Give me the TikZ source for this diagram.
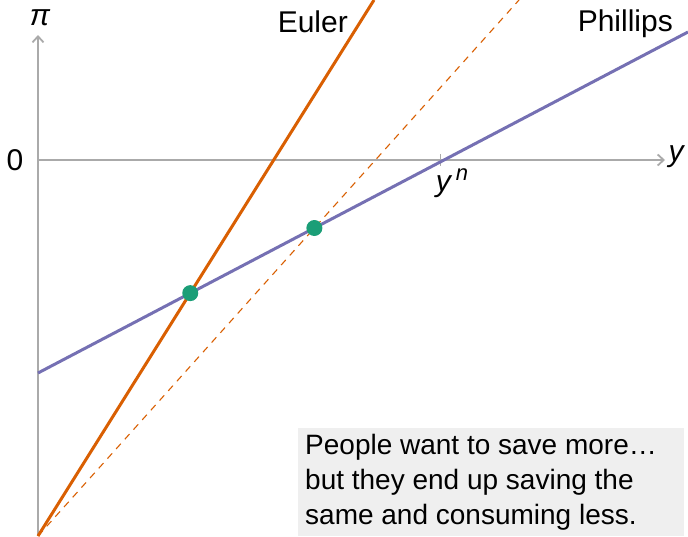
\documentclass[tikz,border=0pt]{standalone}
\usepackage{fontspec}
\setmainfont{Liberation Sans}
\usetikzlibrary{arrows.meta}
\definecolor{euler}{RGB}{217,95,2}
\definecolor{phillips}{RGB}{117,112,179}
\definecolor{eqgreen}{RGB}{27,158,119}
\definecolor{axisgray}{RGB}{170,170,170}
\definecolor{boxgray}{RGB}{239,239,239}

\begin{document}
\begin{tikzpicture}[x=1pt,y=-1pt,>={Straight Barb[length=6pt,width=11pt]},
  lbl/.style={font=\fontsize{30}{34}\selectfont,inner sep=0pt},
  dot/.style={circle,fill=eqgreen,inner sep=0pt,minimum size=16pt}]
  \useasboundingbox (0,0) rectangle (688,536);
  % axes
  \coordinate (O) at (38,536);
  \coordinate (ytop) at (38,35);
  \coordinate (xl) at (38,160);
  \coordinate (xr) at (665,160);
  \coordinate (yn) at (440,160);
  \draw[->,axisgray,line width=1.8pt] (O) -- (ytop);
  \draw[->,axisgray,line width=1.8pt] (xl) -- (xr);
  \draw[axisgray,line width=1pt] ([yshift=-6pt]yn) -- ([yshift=6pt]yn);
  \node[lbl] (pi) at (40,18) {\itshape π};
  \node[lbl] (zero) at (15,160) {0};
  \node[lbl] (ylab) at (676,157) {\itshape y};
  \node[lbl] (ynlab) at (452,183) {\itshape y\,\raisebox{11pt}{\fontsize{22}{24}\selectfont n}};
  % curves
  \coordinate (P0) at (38,373);
  \coordinate (P1) at (688,32);
  \coordinate (E1) at (374,0);
  \coordinate (D1) at (519,0);
  \draw[phillips,line width=3pt] (P0) -- (P1);
  \draw[euler,line width=3pt] (O) -- (E1);
  \draw[euler,line width=1.1pt,dash pattern=on 7pt off 6pt] (O) -- (D1);
  \node[lbl,anchor=east] (euler) at (348,22) {Euler};
  \node[lbl,anchor=east] (phil) at (673,24) {Phillips};
  % equilibria
  \node[dot] (A) at (intersection of P0--P1 and O--E1) {};
  \node[dot] (B) at (intersection of P0--P1 and O--D1) {};
  % note
  \fill[boxgray] (298,428) rectangle (684,536);
  \node[lbl,anchor=north west,align=left,font=\fontsize{28}{35}\selectfont] (note) at (305,434)
    {People want to save more…\\but they end up saving the\\same and consuming less.};
\end{tikzpicture}
\end{document}
